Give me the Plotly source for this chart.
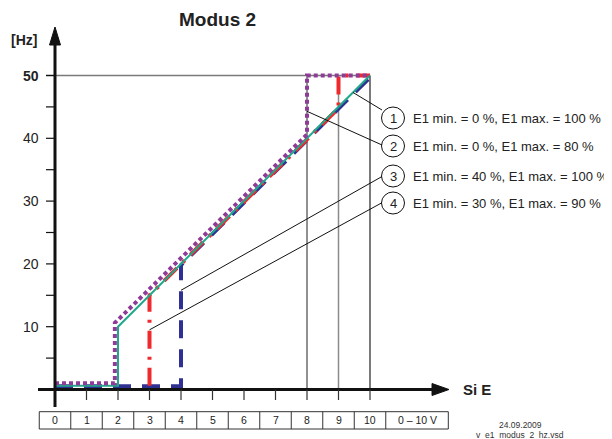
import plotly.graph_objects as go

# ---------------- data ----------------
x_tick_values = [0, 1, 2, 3, 4, 5, 6, 7, 8, 9, 10]
table_labels = ["0", "1", "2", "3", "4", "5", "6", "7", "8", "9", "10"]
table_unit = "0 – 10 V"
y_minor_ticks = [5, 10, 15, 20, 25, 30, 35, 40, 45, 50]
y_tick_labels = [10, 20, 30, 40, 50]

# 1: E1 min. = 0 %, E1 max. = 100 %  (teal, solid)
s1_x = [0, 2, 2, 10]
s1_y = [0.6, 0.6, 10, 50]
# 2: E1 min. = 0 %, E1 max. = 80 %  (purple, dotted)
s2_x = [0, 1.9, 1.9, 8, 8, 10]
s2_y = [1.0, 1.0, 10.6, 40.6, 50, 50]
# 3: E1 min. = 40 %, E1 max. = 100 %  (blue, dashed)
s3_x = [0, 4, 4, 10]
s3_y = [0.5, 0.5, 19.8, 49.7]
# 4: E1 min. = 30 %, E1 max. = 90 %  (red, dash-dot)
s4_x = [3, 3, 9, 9, 10]
s4_y = [0.6, 15, 44.8, 50, 50]

legend_texts = [
    "E1 min. = 0 %, E1 max. = 100 %",
    "E1 min. = 0 %, E1 max. = 80 %",
    "E1 min. = 40 %, E1 max. = 100 %",
    "E1 min. = 30 %, E1 max. = 90 %",
]
leader_targets = [(9.46, 47.3), (8.0, 44.3), (4.0, 15.8), (3.0, 9.5)]

# ---------------- geometry helpers (page pixel -> data) ----------------
PAGE_W, PAGE_H = 612, 439
BODY = 8  # default page body margin
W, H = PAGE_W - BODY, PAGE_H - BODY
X0, SX = 55.0, 31.5
Y0, SY = 389.5, 6.28


def PX(px):
    return (px - X0) / SX


def PY(py):
    return (Y0 - py) / SY


FONT = "Liberation Sans, Arial, Helvetica, sans-serif"
TEAL = "#1fa98a"
PURPLE = "#8e3c98"
BLUE = "#2e3192"
RED = "#ee2a2e"

fig = go.Figure()

fig.add_trace(go.Scatter(x=s3_x, y=s3_y, mode="lines",
                         line=dict(color=BLUE, width=4, dash="18px,11px"),
                         hoverinfo="skip"))
fig.add_trace(go.Scatter(x=s4_x, y=s4_y, mode="lines",
                         line=dict(color=RED, width=4, dash="18px,8px,3px,8px"),
                         hoverinfo="skip"))
fig.add_trace(go.Scatter(x=s1_x, y=s1_y, mode="lines",
                         line=dict(color=TEAL, width=2),
                         hoverinfo="skip"))
fig.add_trace(go.Scatter(x=s2_x, y=s2_y, mode="lines",
                         line=dict(color=PURPLE, width=4, dash="4px,3px"),
                         hoverinfo="skip"))

shapes = []
ann = []

# reference lines
shapes.append(dict(type="line", xref="x", yref="y", x0=PX(46), x1=10, y0=50, y1=50,
                   line=dict(color="#7a7a7a", width=1.5), layer="below"))
shapes.append(dict(type="line", xref="x", yref="y", x0=8, x1=8, y0=0, y1=50,
                   line=dict(color="#222222", width=1), layer="below"))
shapes.append(dict(type="line", xref="x", yref="y", x0=9, x1=9, y0=0, y1=48.5,
                   line=dict(color="#8a8a8a", width=1.5), layer="below"))
shapes.append(dict(type="line", xref="x", yref="y", x0=10, x1=10, y0=0, y1=50,
                   line=dict(color="#222222", width=1.2), layer="below"))

# y axis + arrow
shapes.append(dict(type="line", xref="x", yref="y", x0=0, x1=0, y0=PY(407), y1=PY(40),
                   line=dict(color="#111111", width=3)))
shapes.append(dict(type="path", xref="x", yref="y",
                   path=f"M {PX(55)},{PY(27)} L {PX(49.5)},{PY(45)} L {PX(60.5)},{PY(45)} Z",
                   fillcolor="#111111", line=dict(color="#111111", width=1)))
# x axis + arrow
shapes.append(dict(type="line", xref="x", yref="y", x0=PX(38), x1=PX(437), y0=0, y1=0,
                   line=dict(color="#111111", width=3)))
shapes.append(dict(type="path", xref="x", yref="y",
                   path=f"M {PX(449)},{PY(389.5)} L {PX(432)},{PY(383.5)} L {PX(432)},{PY(395.5)} Z",
                   fillcolor="#111111", line=dict(color="#111111", width=1)))

# y ticks
for v in y_minor_ticks:
    shapes.append(dict(type="line", xref="x", yref="y", x0=PX(46), x1=0, y0=v, y1=v,
                       line=dict(color="#111111", width=1.2)))
for v in y_tick_labels:
    ann.append(dict(x=PX(41), y=v, xref="x", yref="y", text=(f"<b>{v}</b>" if v == 50 else str(v)),
                    showarrow=False, xanchor="right", yanchor="middle",
                    font=dict(family=FONT, size=14, color="#222222")))

# x ticks
for v in x_tick_values[1:]:
    shapes.append(dict(type="line", xref="x", yref="y", x0=v, x1=v, y0=0, y1=PY(400),
                       line=dict(color="#333333", width=1.2)))

# table
t_top, t_bot = PY(411.7), PY(429)
t_right = PX(448.3)
shapes.append(dict(type="rect", xref="x", yref="y", x0=-0.5, x1=t_right, y0=t_bot, y1=t_top,
                   line=dict(color="#333333", width=1), fillcolor="rgba(0,0,0,0)"))
for v in x_tick_values:
    shapes.append(dict(type="line", xref="x", yref="y", x0=v + 0.5, x1=v + 0.5, y0=t_bot, y1=t_top,
                       line=dict(color="#333333", width=1)))
    ann.append(dict(x=v, y=(t_top + t_bot) / 2, xref="x", yref="y", text=table_labels[v],
                    showarrow=False, xanchor="center", yanchor="middle",
                    font=dict(family=FONT, size=10.5, color="#222222")))
ann.append(dict(x=(10.5 + t_right) / 2, y=(t_top + t_bot) / 2, xref="x", yref="y", text=table_unit,
                showarrow=False, xanchor="center", yanchor="middle",
                font=dict(family=FONT, size=10.5, color="#222222")))

# legend circles, numbers, texts, leaders
circle_cy = [118, 146, 176, 203]
for i, cy in enumerate(circle_cy):
    shapes.append(dict(type="circle", xref="x", yref="y",
                       x0=PX(393 - 11.5), x1=PX(393 + 11.5), y0=PY(cy + 11), y1=PY(cy - 11),
                       line=dict(color="#111111", width=1), fillcolor="white"))
    ann.append(dict(x=PX(393), y=PY(cy), xref="x", yref="y", text=str(i + 1), showarrow=False,
                    xanchor="center", yanchor="middle",
                    font=dict(family=FONT, size=13, color="#222222")))
    ann.append(dict(x=PX(411), y=PY(cy), xref="x", yref="y", text=legend_texts[i], showarrow=False,
                    xanchor="left", yanchor="middle",
                    font=dict(family=FONT, size=13, color="#222222")))
    tx, ty = leader_targets[i]
    end_py = [110, 145, 176.5, 202.7][i]
    shapes.append(dict(type="line", xref="x", yref="y", x0=tx, y0=ty, x1=PX(382), y1=PY(end_py),
                       line=dict(color="#111111", width=1)))

# titles
ann.append(dict(x=PX(217.5), y=PY(19), xref="x", yref="y", text="<b>Modus 2</b>", showarrow=False,
                xanchor="center", yanchor="middle", font=dict(family=FONT, size=19, color="#222222")))
ann.append(dict(x=PX(24), y=PY(40), xref="x", yref="y", text="<b>[Hz]</b>", showarrow=False,
                xanchor="center", yanchor="middle", font=dict(family=FONT, size=14, color="#222222")))
ann.append(dict(x=PX(461), y=PY(389), xref="x", yref="y", text="<b>Si E</b>", showarrow=False,
                xanchor="left", yanchor="middle", font=dict(family=FONT, size=15, color="#222222")))
ann.append(dict(x=PX(520), y=PY(425), xref="x", yref="y", text="24.09.2009", showarrow=False,
                xanchor="center", yanchor="middle", font=dict(family=FONT, size=8.5, color="#333333")))
ann.append(dict(x=PX(520), y=PY(434.5), xref="x", yref="y", text="v_e1_modus_2_hz.vsd", showarrow=False,
                xanchor="center", yanchor="middle", font=dict(family=FONT, size=8.5, color="#333333")))

fig.update_layout(
    width=W, height=H,
    margin=dict(l=0, r=0, t=0, b=0),
    paper_bgcolor="white", plot_bgcolor="white",
    showlegend=False,
    xaxis=dict(range=[PX(BODY), PX(PAGE_W)], visible=False, fixedrange=True),
    yaxis=dict(range=[PY(PAGE_H), PY(BODY)], visible=False, fixedrange=True),
    shapes=shapes,
    annotations=ann,
)

fig.write_html("out.html")
